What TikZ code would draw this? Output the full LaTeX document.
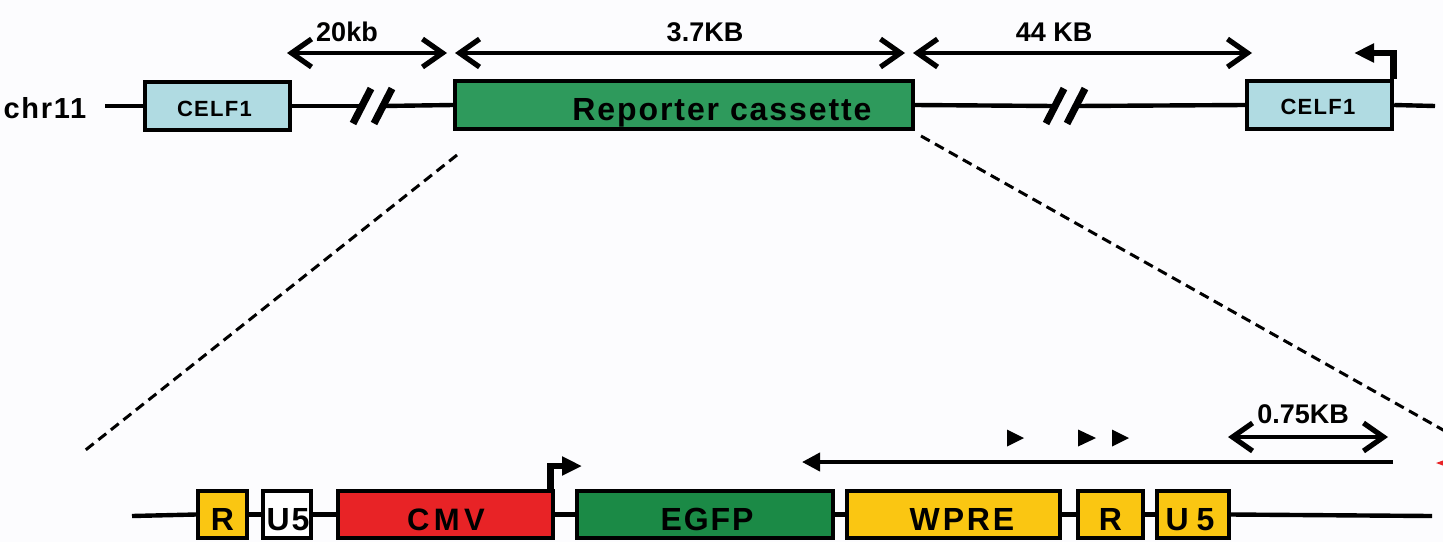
\documentclass[tikz,border=0pt]{standalone}
\usepackage{fontspec}
\setmainfont{Liberation Sans}
\newfontfamily\spa[LetterSpace=6]{Liberation Sans}
\newfontfamily\spb[LetterSpace=14]{Liberation Sans}
\newfontfamily\spc[LetterSpace=9]{Liberation Sans}
\newfontfamily\spd[LetterSpace=25]{Liberation Sans}
\usetikzlibrary{arrows.meta}
\definecolor{bgc}{RGB}{252,252,254}
\definecolor{celfc}{RGB}{176,219,226}
\definecolor{repc}{RGB}{46,154,92}
\definecolor{egfpc}{RGB}{27,138,70}
\definecolor{cmvc}{RGB}{232,35,38}
\definecolor{yelc}{RGB}{250,198,18}
\tikzset{
  box/.style={draw=black, line width=2.2pt, inner sep=0pt},
  topbox/.style={box, minimum height=24pt},
  botbox/.style={box, minimum height=23.5pt},
  txt/.style={anchor=base, inner sep=0pt, text=black},
  dna/.style={line width=2.2pt},
  brk/.style={line width=3.6pt},
  dimarrow/.style={line width=2pt, {Straight Barb[length=10pt,width=14pt,line width=2.6pt]}-{Straight Barb[length=10pt,width=14pt,line width=2.6pt]}},
  prom/.style={line width=3.4pt, -{Triangle[length=10pt,width=9pt]}},
  lng/.style={line width=2pt, -{Triangle[length=9pt,width=9pt]}},
  zoomline/.style={line width=1.5pt, dash pattern=on 5pt off 3pt},
  tri/.style={fill=black}
}
\begin{document}
\begin{tikzpicture}[x=0.5pt,y=-0.5pt]
\useasboundingbox (0,0) rectangle (1443,542);
\fill[bgc] (0,0) rectangle (1443,542);
\clip (0,0) rectangle (1443,542);

% ---------- top row ----------
\node[topbox, fill=celfc, minimum width=72.5pt] (celfL) at (217.5,106) {};
\node[topbox, fill=repc, minimum width=229pt] (rep) at (684,105) {};
\node[topbox, fill=celfc, minimum width=72.5pt] (celfR) at (1319.5,105) {};

\node[txt, font={\fontsize{14.5}{16}\spa\bfseries}] (chr) at (45,118) {chr11};
\node[txt, font={\fontsize{11}{13}\spa\bfseries}] (celfLt) at (214.5,116) {CELF1};
\node[txt, font={\fontsize{16}{18}\spa\bfseries}] (rept) at (722,120) {Reporter cassette};
\node[txt, font={\fontsize{11}{13}\spa\bfseries}] (celfRt) at (1318,114) {CELF1};

\coordinate (chrS) at (105,106);
\coordinate (s1a) at (362,106);
\coordinate (s1b) at (383,106);
\coordinate (s2a) at (1055,106);
\coordinate (s2b) at (1076,106);
\coordinate (chrE) at (1435,106);

\draw[dna] (chrS) -- (celfL.west);
\draw[dna] (celfL.east) -- (s1a);
\draw[dna] (s1b) -- (rep.west);
\draw[dna] (rep.east) -- (s2a);
\draw[dna] (s2b) -- (celfR.west);
\draw[dna] (celfR.east) -- (chrE);

\draw[brk] (s1a) ++(-9,17.5) -- ++(18,-35);
\draw[brk] (s1b) ++(-9,17.5) -- ++(18,-35);
\draw[brk] (s2a) ++(-9,17.5) -- ++(18,-35);
\draw[brk] (s2b) ++(-9,17.5) -- ++(18,-35);

% dimension arrows
\coordinate (d1) at (287,53);
\coordinate (d2) at (447,53);
\coordinate (d3) at (455,53);
\coordinate (d4) at (905,53);
\coordinate (d5) at (913,53);
\coordinate (d6) at (1252,53);
\draw[dimarrow] (d1) -- (d2);
\draw[dimarrow] (d3) -- (d4);
\draw[dimarrow] (d5) -- (d6);
\node[txt, font={\fontsize{13.5}{15}\bfseries}] (l20) at (347,41.5) {20kb};
\node[txt, font={\fontsize{13.5}{15}\bfseries}] (l37) at (705,41.5) {3.7KB};
\node[txt, font={\fontsize{13.5}{15}\bfseries}] (l44) at (1054,41.5) {44 KB};

% promoter of right CELF1
\coordinate (pt) at (1354,53);
\draw[prom] ([xshift=-0.5pt]celfR.north east) |- (pt);

% zoom lines
\coordinate (zl1) at (457,155);
\coordinate (zl2) at (83,452);
\coordinate (zr1) at (921,136);
\coordinate (zr2) at (1452,435);
\draw[zoomline] (zl1) -- (zl2);
\draw[zoomline] (zr1) -- (zr2);

% ---------- bottom row ----------
\node[botbox, fill=yelc, minimum width=24.5pt] (R1) at (222.5,514.5) {};
\node[botbox, fill=white, minimum width=24pt] (U5a) at (287,514.5) {};
\node[botbox, fill=cmvc, minimum width=107.5pt] (CMV) at (445.5,514.5) {};
\node[botbox, fill=egfpc, minimum width=128pt] (EGFP) at (705,514.5) {};
\node[botbox, fill=yelc, minimum width=106.5pt] (WPRE) at (953.5,514.5) {};
\node[botbox, fill=yelc, minimum width=32.5pt] (R2) at (1110.5,514.5) {};
\node[botbox, fill=yelc, minimum width=36pt] (U5b) at (1193,514.5) {};

\node[txt, font={\fontsize{16}{18}\spa\bfseries}] (R1t) at (222.5,530) {R};
\node[txt, font={\fontsize{16}{18}\spa\bfseries}] (U5at) at (288,530) {U5};
\node[txt, font={\fontsize{15.5}{18}\spb\bfseries}] (CMVt) at (446,530) {CMV};
\node[txt, font={\fontsize{16}{18}\spa\bfseries}] (EGFPt) at (707,530) {EGFP};
\node[txt, font={\fontsize{16}{18}\spc\bfseries}] (WPREt) at (962,530) {WPRE};
\node[txt, font={\fontsize{16}{18}\spa\bfseries}] (R2t) at (1110.5,530) {R};
\node[txt, font={\fontsize{16}{18}\spd\bfseries}] (U5bt) at (1190,530) {U5};

\coordinate (bS) at (132,516);
\coordinate (bE) at (1432,516);
\draw[dna] (bS) -- (R1.west);
\draw[dna] (R1.east) -- (U5a.west);
\draw[dna] (U5a.east) -- (CMV.west);
\draw[dna] (CMV.east) -- (EGFP.west);
\draw[dna] (EGFP.east) -- (WPRE.west);
\draw[dna] (WPRE.east) -- (R2.west);
\draw[dna] (R2.east) -- (U5b.west);
\draw[dna] (U5b.east) -- (bE);

% CMV promoter arrow
\coordinate (pb) at (582,466);
\draw[prom] ([xshift=-2.5pt]CMV.north east) |- (pb);

% long arrow
\coordinate (laS) at (1393,462);
\coordinate (laE) at (802,462);
\draw[lng] (laS) -- (laE);

% 0.75KB
\coordinate (e1) at (1228,437);
\coordinate (e2) at (1388,437);
\draw[dimarrow] (e1) -- (e2);
\node[txt, font={\fontsize{13.5}{15}\bfseries}] (l075) at (1303,423) {0.75KB};

% small triangles
\fill[tri] (1007,429.5) -- (1024,438) -- (1007,446.5) -- cycle;
\fill[tri] (1078,429.5) -- (1096,438) -- (1078,446.5) -- cycle;
\fill[tri] (1112,429.5) -- (1129,438) -- (1112,446.5) -- cycle;

% partial red arrowhead at the edge
\fill[cmvc] (1436,463) -- (1458,455) -- (1458,471) -- cycle;
\end{tikzpicture}
\end{document}
